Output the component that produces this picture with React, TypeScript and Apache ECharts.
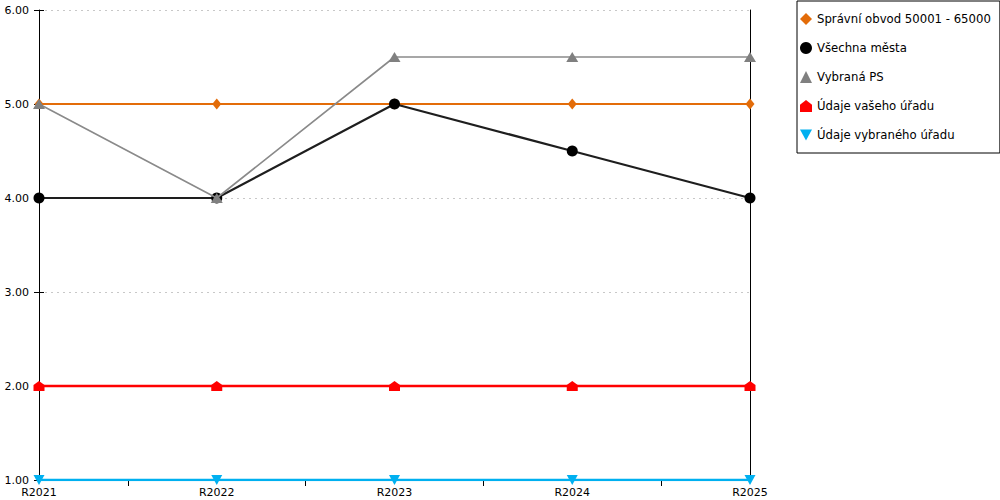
import React, { useEffect, useRef } from "react";
import * as echarts from "echarts";

const categories = ["R2021", "R2022", "R2023", "R2024", "R2025"];
const seriesNames = [
  "Správní obvod 50001 - 65000",
  "Všechna města",
  "Vybraná PS",
  "Údaje vašeho úřadu",
  "Údaje vybraného úřadu",
];
const spravniObvod = [5, 5, 5, 5, 5];
const vsechnaMesta = [4, 4, 5, 4.5, 4];
const vybranaPS = [5, 4, 5.5, 5.5, 5.5];
const vasUrad = [2, 2, 2, 2, 2];
const vybranyUrad = [1, 1, 1, 1, 1];

const colors = ["#E36C09", "#000000", "#808080", "#FF0000", "#00B0F0"];
const lineColors = ["#E36C09", "#1e1e1e", "#8a8a8a", "#FF0000", "#00B0F0"];
const houseSymbol = "path://M5,0 L10,4 L10,10 L0,10 L0,4 Z";
const downTriangle = "path://M0,0 L10,0 L5,9 Z";
const symbols = ["diamond", "circle", "triangle", houseSymbol, downTriangle];
const symbolSizes: any[] = [[9, 11], 11, [12, 10], [11, 10], [11, 10]];
const lineWidths = [2, 2.2, 1.6, 2.5, 2.5];
const values = [spravniObvod, vsechnaMesta, vybranaPS, vasUrad, vybranyUrad];

const FONT = "DejaVu Sans";

export default function App() {
  const ref = useRef<HTMLDivElement>(null);
  useEffect(() => {
    if (!ref.current) return;
    const chart = echarts.init(ref.current, undefined, { renderer: "svg" });
    const yBase = { type: "value", min: 1, max: 6, interval: 1 };
    chart.setOption({
      animation: false,
      backgroundColor: "#ffffff",
      grid: { left: 39, right: 250, top: 10, bottom: 20, containLabel: false },
      legend: {
        orient: "vertical",
        left: 797,
        top: 1,
        padding: [12, 9, 12, 3],
        borderColor: "#000",
        borderWidth: 1,
        itemWidth: 12,
        itemHeight: 12,
        itemGap: 17,
        textStyle: { fontFamily: FONT, fontSize: 11.7, color: "#000" },
        data: seriesNames.map((n, i) => ({ name: n, icon: symbols[i], itemStyle: { color: colors[i] } })),
      },
      xAxis: [
        {
          type: "category",
          data: categories,
          boundaryGap: false,
          axisLine: { show: true, lineStyle: { color: "#000", width: 1 } },
          axisTick: { show: false },
          axisLabel: { fontFamily: FONT, fontSize: 11, color: "#000", margin: 7 },
          splitLine: { show: false },
        },
        {
          type: "category",
          data: ["", "", "", ""],
          boundaryGap: true,
          position: "bottom",
          axisLine: { show: false },
          axisTick: { show: true, alignWithLabel: true, length: 6, lineStyle: { color: "#000" } },
          axisLabel: { show: false },
          splitLine: { show: false },
        },
      ],
      yAxis: [
        {
          ...yBase,
          position: "left",
          axisLine: { show: true, lineStyle: { color: "#000", width: 1 } },
          axisTick: { show: true, length: 5, lineStyle: { color: "#000" } },
          axisLabel: {
            fontFamily: FONT,
            fontSize: 11,
            color: "#000",
            margin: 10,
            formatter: (v: number) => v.toFixed(2),
          },
          splitLine: { show: true, lineStyle: { color: "#c8c8c8", type: [2, 4], width: 1 } },
        },
        {
          ...yBase,
          position: "left",
          axisLine: { show: false },
          axisTick: { show: true, inside: true, length: 5, lineStyle: { color: "#000" } },
          axisLabel: { show: false },
          splitLine: { show: false },
        },
        {
          ...yBase,
          position: "right",
          axisLine: { show: true, lineStyle: { color: "#000", width: 1 } },
          axisTick: { show: false },
          axisLabel: { show: false },
          splitLine: { show: false },
        },
      ],
      series: seriesNames.map((n, i) => ({
        name: n,
        type: "line",
        data: values[i],
        xAxisIndex: 0,
        yAxisIndex: 0,
        symbol: symbols[i],
        symbolSize: symbolSizes[i],
        showAllSymbol: true,
        color: colors[i],
        lineStyle: { color: lineColors[i], width: lineWidths[i] },
        itemStyle: { color: colors[i] },
        emphasis: { disabled: true },
        z: 2 + i,
      })),
    });
    return () => chart.dispose();
  }, []);
  return (
    <div
      ref={ref}
      style={{ position: "fixed", left: 0, top: 0, width: 1000, height: 500, background: "#fff" }}
    />
  );
}
